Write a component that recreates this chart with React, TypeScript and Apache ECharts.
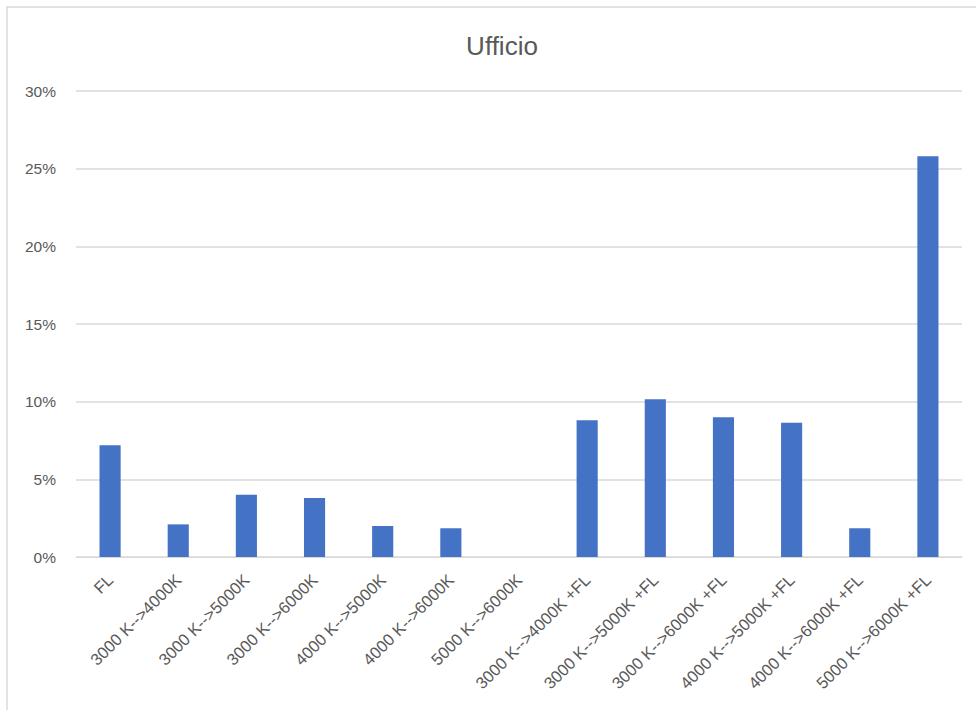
import React, { useEffect, useRef } from "react";
import * as echarts from "echarts";

const categories: string[] = [
  "FL",
  "3000 K-->4000K",
  "3000 K-->5000K",
  "3000 K-->6000K",
  "4000 K-->5000K",
  "4000 K-->6000K",
  "5000 K-->6000K",
  "3000 K-->4000K +FL",
  "3000 K-->5000K +FL",
  "3000 K-->6000K +FL",
  "4000 K-->5000K +FL",
  "4000 K-->6000K +FL",
  "5000 K-->6000K +FL",
];

const values: number[] = [7.2, 2.1, 4.0, 3.8, 2.0, 1.85, 0, 8.8, 10.15, 9.0, 8.65, 1.85, 25.8];

const yTicks: number[] = [0, 5, 10, 15, 20, 25, 30];

const FONT = "'Liberation Sans', 'Noto Sans', sans-serif";
const TEXT_COLOR = "#595959";

export default function App() {
  const ref = useRef<HTMLDivElement>(null);
  useEffect(() => {
    if (!ref.current) return;
    const chart = echarts.init(ref.current, undefined, { renderer: "svg" });
    chart.setOption({
      animation: false,
      backgroundColor: "#ffffff",
      title: {
        text: "Ufficio",
        left: 497,
        top: 28,
        textAlign: "center",
        textStyle: { fontFamily: FONT, fontSize: 26, fontWeight: "normal", color: TEXT_COLOR },
      },
      grid: { left: 76, right: 14, top: 91, bottom: 153, containLabel: false },
      xAxis: {
        type: "category",
        data: categories,
        axisLine: { show: true, lineStyle: { color: "#d9d9d9", width: 1 } },
        axisTick: { show: false },
        axisLabel: {
          rotate: 45,
          interval: 0,
          margin: 20,
          fontFamily: FONT,
          fontSize: 16.5,
          color: TEXT_COLOR,
        },
      },
      yAxis: {
        type: "value",
        min: yTicks[0],
        max: yTicks[yTicks.length - 1],
        interval: 5,
        axisLine: { show: false },
        axisTick: { show: false },
        splitLine: { lineStyle: { color: "#d9d9d9", width: 1.5 } },
        axisLabel: {
          margin: 20,
          fontFamily: FONT,
          fontSize: 15.5,
          color: TEXT_COLOR,
          formatter: (v: number) => `${v}%`,
        },
      },
      series: [
        {
          type: "bar",
          data: values,
          barWidth: "31%",
          itemStyle: { color: "#4472C4" },
        },
      ],
      graphic: [
        {
          type: "polyline",
          shape: { points: [[7, 710], [7, 7], [976, 7]] },
          style: { stroke: "#d9d9d9", lineWidth: 1.5, fill: null },
          silent: true,
        },
      ],
    });
    return () => chart.dispose();
  }, []);
  return (
    <div
      ref={ref}
      style={{ position: "absolute", left: 0, top: 0, width: 976, height: 710 }}
    />
  );
}
